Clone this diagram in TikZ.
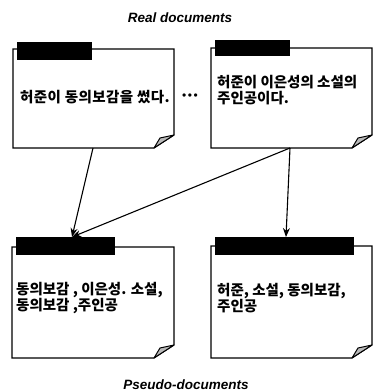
\documentclass[tikz,border=0pt]{standalone}
\usepackage{fontspec}
\setmainfont{Liberation Sans}
\newfontfamily\kr{Noto Sans CJK KR}
\newfontfamily\krwide{Noto Sans CJK KR}[LetterSpace=3]
\usetikzlibrary{arrows.meta}
\tikzset{
  docline/.style={draw=black, line width=1.1pt, fill=white, line join=miter},
  tabbox/.style={fill=black, inner sep=0pt, anchor=north west},
  flap/.style={fill=gray!55, draw=black, line width=1pt, line join=round},
  ktext/.style={font=\kr\bfseries\fontsize{14.5}{16}\selectfont, inner sep=0pt, align=left, anchor=west, text=black},
  heading/.style={font=\bfseries\itshape\fontsize{13.5}{16}\selectfont, inner sep=0pt},
  conn/.style={line width=1.1pt, -{Stealth[length=9pt,width=7pt]}}
}
\newcommand\docpaper[4]{%
  \draw[docline] (#1,#2) -- (#3,#2) -- (#3,#4-13) -- (#3-20,#4) -- (#1,#4) -- cycle;
  \draw[flap] (#3-20,#4) .. controls (#3-17,#4-5) .. (#3-14,#4-10) .. controls (#3-7,#4-11) .. (#3,#4-13) -- cycle;
}
\begin{document}
\begin{tikzpicture}[x=1pt,y=-1pt]
\useasboundingbox (0,0) rectangle (374,392);
% headings
\node[heading] (real) at (180,18) {Real documents};
\node[heading] (pseudo) at (186,385) {Pseudo-documents};
% documents
\docpaper{13}{49}{174}{148}
\docpaper{211}{48}{372}{148}
\docpaper{12}{247}{174}{358}
\docpaper{211}{246}{372}{358}
% tabs
\node[tabbox, minimum width=75pt, minimum height=18pt] (tabTL) at (17,42) {};
\node[tabbox, minimum width=75pt, minimum height=16pt] (tabTR) at (215,40) {};
\node[tabbox, minimum width=99pt, minimum height=18pt] (tabBL) at (16,237) {};
\node[tabbox, minimum width=139pt, minimum height=18pt] (tabBR) at (215,237) {};
% texts
\node[ktext, font=\krwide\bfseries\fontsize{14.5}{16}\selectfont] (tTL) at (20,97) {허준이 동의보감을 썼다.};
\node[ktext] (tTR) at (217,90.5) {허준이 이은성의 소설의\\주인공이다.};
\node[ktext] (tBL) at (16,298) {동의보감 , 이은성. 소설,\\동의보감 ,주인공};
\node[ktext] (tBR) at (217,298.5) {허준, 소설, 동의보감,\\주인공};
\node[inner sep=0pt, font=\fontsize{12}{14}\selectfont] (dots) at (190,96.5) {•\hspace{1.5pt}•\hspace{1.5pt}•};
% connectors
\coordinate (tlout) at (93,148);
\coordinate (trout) at (290,148);
\coordinate (blin) at (72,237);
\coordinate (brin) at (286,237);
\draw[conn] (tlout) -- (blin);
\draw[conn] (trout) -- (blin);
\draw[conn] (trout) -- (brin);
\end{tikzpicture}
\end{document}
